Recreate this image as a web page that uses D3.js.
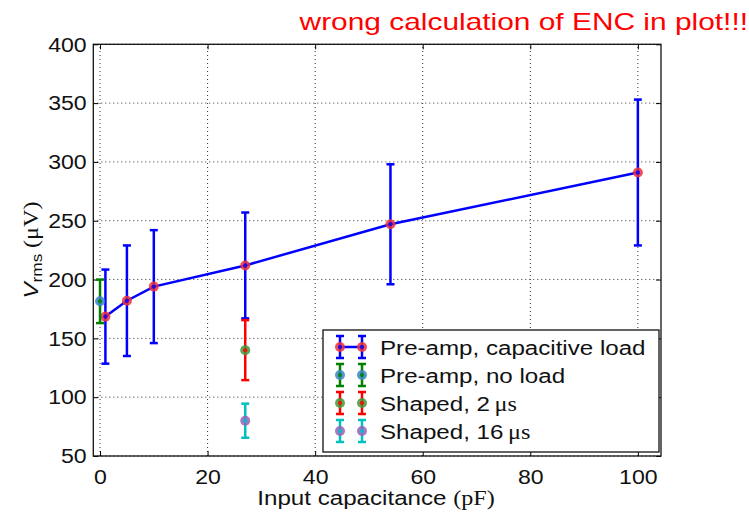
<!DOCTYPE html>
<html>
<head>
<meta charset="utf-8">
<script src="https://cdn.jsdelivr.net/npm/d3@7"></script>
<style>
  body { margin: 0; background: #fff; }
  text { font-family: "Liberation Sans", Arial, sans-serif; }
</style>
</head>
<body>
<div class="canvas"></div>
<script>
// values
const xTicks = [0, 20, 40, 60, 80, 100];
const yTicks = [50, 100, 150, 200, 250, 300, 350, 400];

const capX = [1, 5, 10, 27, 54, 100];
const capV = [168.5, 182, 194, 212, 247, 291];
const capErr = [40, 47, 48, 45, 51, 62];

const noLoadX = [0];
const noLoadV = [181.5];
const noLoadErr = [18.5];

const shaped2X = [27];
const shaped2V = [140];
const shaped2Err = [25.5];

const shaped16X = [27];
const shaped16V = [80];
const shaped16Err = [14.5];

const width = 749;
const height = 518;
const stretch = 1.15; // text in the picture is a bit wider than Liberation Sans

const series = [
  { name: "Pre-amp, capacitive load", x: capX, v: capV, err: capErr, bar: "#0000ff", face: "#f0303a", line: true },
  { name: "Pre-amp, no load", x: noLoadX, v: noLoadV, err: noLoadErr, bar: "#008000", face: "#3a86c8", line: false },
  { name: "Shaped, 2", unit: "μs", x: shaped2X, v: shaped2V, err: shaped2Err, bar: "#ff0000", face: "#3f9a3a", line: false },
  { name: "Shaped, 16", unit: "μs", x: shaped16X, v: shaped16V, err: shaped16Err, bar: "#00c0c0", face: "#9a5fb8", line: false }
];

const svg = d3.select(".canvas").append("svg")
  .attr("width", width).attr("height", height);

const x = d3.scaleLinear().domain([-1.25, 104.3]).range([93.3, 661]);
const y = d3.scaleLinear().domain([50, 400]).range([456, 44.3]);

// grid
const grid = svg.append("g")
  .attr("stroke", "#000").attr("stroke-width", 1).attr("stroke-dasharray", "1,3").attr("opacity", 0.8);
grid.selectAll(".gx").data(xTicks).enter().append("line")
  .attr("x1", d => x(d)).attr("x2", d => x(d)).attr("y1", y(50)).attr("y2", y(400));
grid.selectAll(".gy").data(yTicks).enter().append("line")
  .attr("x1", x.range()[0]).attr("x2", x.range()[1]).attr("y1", d => y(d)).attr("y2", d => y(d));

// axes with inward ticks
svg.append("g").attr("transform", `translate(0,${y(50)})`)
  .call(d3.axisBottom(x).tickValues(xTicks).tickSizeInner(-5).tickSizeOuter(0).tickPadding(9))
  .call(g => g.select(".domain").remove())
  .call(g => g.selectAll("text").attr("font-size", 21).attr("fill", "#111").attr("dy", "0.9em")
    .attr("transform", "scale(1.1,1)"));
svg.append("g").attr("transform", `translate(0,${y(400)})`)
  .call(d3.axisTop(x).tickValues(xTicks).tickSizeInner(-5).tickSizeOuter(0).tickFormat(""))
  .call(g => g.select(".domain").remove());
svg.append("g").attr("transform", `translate(${x.range()[0]},0)`)
  .call(d3.axisLeft(y).tickValues(yTicks).tickSizeInner(-5).tickSizeOuter(0).tickPadding(6))
  .call(g => g.select(".domain").remove())
  .call(g => g.selectAll("text").attr("font-size", 21).attr("fill", "#111")
    .attr("transform", "scale(1.1,1)"));
svg.append("g").attr("transform", `translate(${x.range()[1]},0)`)
  .call(d3.axisRight(y).tickValues(yTicks).tickSizeInner(-5).tickSizeOuter(0).tickFormat(""))
  .call(g => g.select(".domain").remove());

svg.append("rect")
  .attr("x", x.range()[0]).attr("y", y(400))
  .attr("width", x.range()[1] - x.range()[0]).attr("height", y(50) - y(400))
  .attr("fill", "none").attr("stroke", "#111").attr("stroke-width", 1.3);

// draws one error bar point
function errPoint(g, cx, cy, top, bot, s) {
  g.append("line").attr("x1", cx).attr("x2", cx).attr("y1", top).attr("y2", bot)
    .attr("stroke", s.bar).attr("stroke-width", 2.5);
  [top, bot].forEach(yy => g.append("line")
    .attr("x1", cx - 4).attr("x2", cx + 4).attr("y1", yy).attr("y2", yy)
    .attr("stroke", s.bar).attr("stroke-width", 2.5));
  g.append("circle").attr("cx", cx).attr("cy", cy).attr("r", 5)
    .attr("fill", s.face).attr("opacity", 0.85);
  g.append("circle").attr("cx", cx).attr("cy", cy).attr("r", 2.2).attr("fill", s.bar).attr("opacity", 0.8);
}

const plot = svg.append("g");
series.forEach(s => {
  const pts = s.x.map((d, i) => ({ x: d, v: s.v[i], e: s.err[i] }));
  if (s.line) {
    plot.append("path").datum(pts)
      .attr("d", d3.line().x(d => x(d.x)).y(d => y(d.v)))
      .attr("fill", "none").attr("stroke", s.bar).attr("stroke-width", 2.5);
  }
  pts.forEach(p => errPoint(plot, x(p.x), y(p.v), y(p.v + p.e), y(p.v - p.e), s));
});

// legend
const legend = svg.append("g").attr("transform", "translate(323,330)");
legend.append("rect").attr("width", 336).attr("height", 122)
  .attr("fill", "#fff").attr("stroke", "#111").attr("stroke-width", 1.3);
series.forEach((s, i) => {
  const g = legend.append("g").attr("transform", `translate(0,${17 + i * 28})`);
  if (s.line) {
    g.append("line").attr("x1", 17).attr("x2", 39).attr("y1", 0).attr("y2", 0)
      .attr("stroke", s.bar).attr("stroke-width", 2.5);
  }
  [17, 39].forEach(cx => errPoint(g, cx, 0, -11, 11, s));
  const t = g.append("text").attr("transform", `translate(57,8) scale(${stretch},1)`)
    .attr("font-size", 21).attr("fill", "#111");
  t.append("tspan").text(s.name);
  if (s.unit) {
    t.append("tspan").attr("dx", 4).attr("font-family", "Liberation Serif, serif").text(s.unit);
  }
});

// labels
const xl = svg.append("text").attr("transform", `translate(376,505) scale(${stretch},1)`)
  .attr("text-anchor", "middle").attr("font-size", 21).attr("fill", "#111");
xl.append("tspan").text("Input capacitance ");
xl.append("tspan").attr("font-family", "Liberation Serif, serif").text("(pF)");

const yl = svg.append("text").attr("transform", `translate(38,250) rotate(-90) scale(${stretch},1)`)
  .attr("text-anchor", "middle").attr("font-size", 21).attr("fill", "#111");
yl.append("tspan").attr("font-style", "italic").text("V");
yl.append("tspan").attr("font-size", 15).attr("dy", 4).text("rms");
yl.append("tspan").attr("dy", -4).attr("dx", 5).attr("font-family", "Liberation Serif, serif").text("(μV)");

svg.append("text").attr("transform", "translate(748,30) scale(1.3,1)").attr("text-anchor", "end")
  .attr("font-family", "DejaVu Sans, sans-serif").attr("font-size", 23).attr("fill", "#ff0000")
  .text("wrong calculation of ENC in plot!!!");
</script>
</body>
</html>
